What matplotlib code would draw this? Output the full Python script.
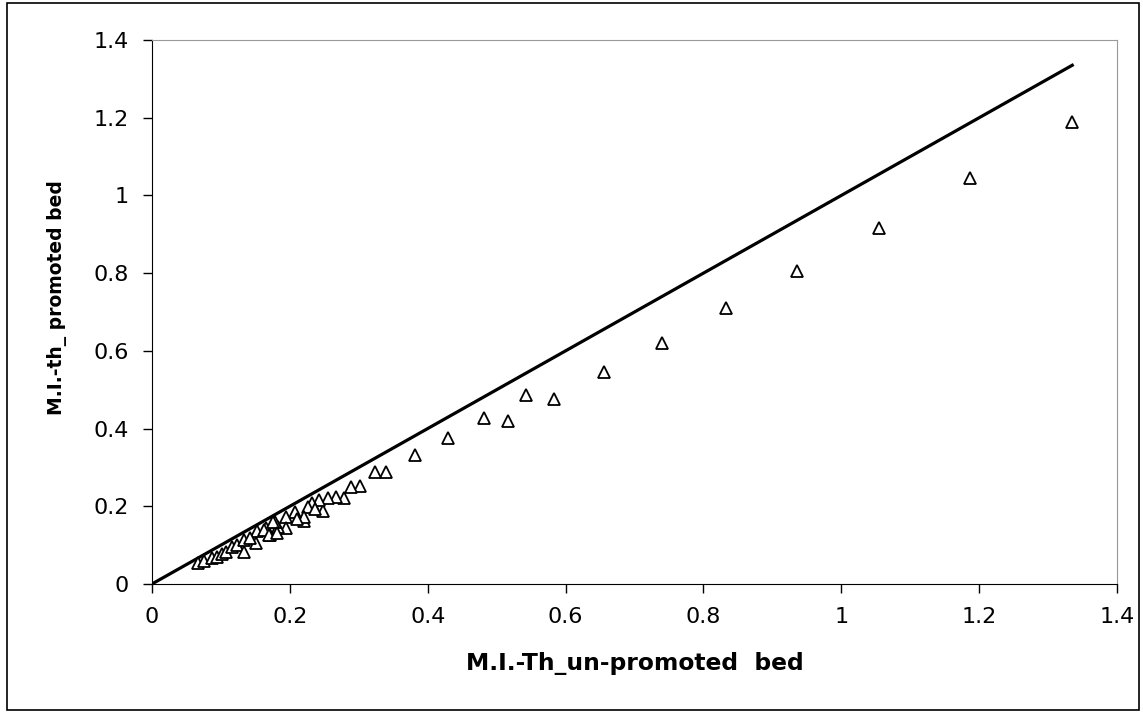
import numpy as np
import matplotlib.pyplot as plt
from matplotlib.patches import Rectangle

# data (x: un-promoted bed, y: promoted bed)
unpromoted = [1.335, 1.187, 1.054, 0.936, 0.832, 0.740, 0.655, 0.583, 0.542, 0.516,
              0.481, 0.429, 0.381, 0.340, 0.324, 0.302, 0.289, 0.279, 0.267, 0.255,
              0.248, 0.242, 0.232, 0.227, 0.237, 0.220, 0.221, 0.208, 0.210, 0.195,
              0.195, 0.183, 0.179, 0.171, 0.165, 0.152, 0.151, 0.067, 0.075, 0.087,
              0.094, 0.101, 0.108, 0.116, 0.124, 0.134, 0.133, 0.142, 0.162, 0.169,
              0.176, 0.181]
promoted = [1.189, 1.045, 0.916, 0.806, 0.709, 0.619, 0.546, 0.477, 0.486, 0.420,
            0.428, 0.376, 0.331, 0.289, 0.287, 0.253, 0.250, 0.220, 0.223, 0.221,
            0.189, 0.216, 0.208, 0.199, 0.192, 0.162, 0.173, 0.186, 0.167, 0.173,
            0.143, 0.147, 0.160, 0.126, 0.143, 0.135, 0.105, 0.053, 0.060, 0.066,
            0.070, 0.077, 0.083, 0.096, 0.100, 0.083, 0.113, 0.118, 0.139, 0.126,
            0.160, 0.130]
line_x = [0, 1.335]
line_y = [0, 1.335]

ticks = [0, 0.2, 0.4, 0.6, 0.8, 1, 1.2, 1.4]
tick_labels = ["0", "0.2", "0.4", "0.6", "0.8", "1", "1.2", "1.4"]

plt.rcParams['font.family'] = ['DejaVu Sans']

fig = plt.figure(figsize=(11.43, 7.13), dpi=100)
ax = fig.add_axes([0.133, 0.181, 0.8443, 0.7629])

ax.plot(line_x, line_y, color='black', lw=2.3, zorder=2)
ax.plot(unpromoted, promoted, linestyle='none', marker='^', markersize=8.5,
        markerfacecolor='white', markeredgecolor='black', markeredgewidth=1.3, zorder=3)

ax.set_xlim(0, 1.4)
ax.set_ylim(0, 1.4)
ax.set_xticks(ticks)
ax.set_xticklabels(tick_labels)
ax.set_yticks(ticks)
ax.set_yticklabels(tick_labels)
ax.tick_params(direction='out', length=6.5, width=1, labelsize=16, pad=10)

for s in ['top', 'right']:
    ax.spines[s].set_color('#999999')
for s in ['left', 'bottom']:
    ax.spines[s].set_color('black')

ax.set_xlabel("M.I.-Th_un-promoted  bed", fontsize=16.8, fontweight='bold', labelpad=18)
ax.set_ylabel("M.I.-th_ promoted bed", fontsize=13.5, fontweight='bold')
ax.yaxis.set_label_coords(-0.088, 0.527)

fig.patches.append(Rectangle((7 / 1143, 3 / 713), 1132 / 1143, 707 / 713,
                             transform=fig.transFigure, fill=False,
                             edgecolor='black', lw=1.2))

fig.savefig("out.png", dpi=100)
